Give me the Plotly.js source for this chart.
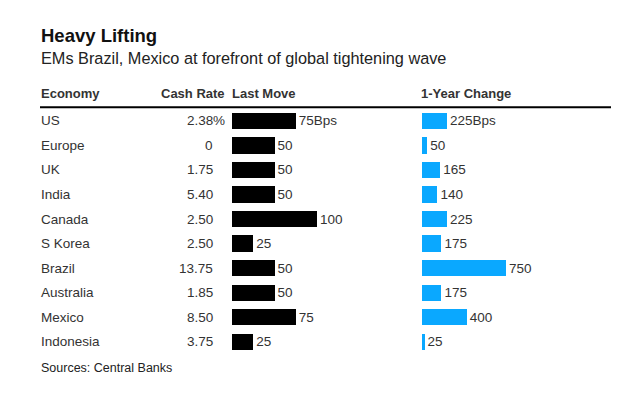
<!DOCTYPE html>
<html>
<head>
<meta charset="utf-8">
<script src="https://cdn.plot.ly/plotly-3.0.1.min.js"></script>
<style>
html,body{margin:0;padding:0;background:#fff;}
#chart{width:630px;height:415px;}
</style>
</head>
<body>
<div id="chart"></div>
<script>
const economies = ['US','Europe','UK','India','Canada','S Korea','Brazil','Australia','Mexico','Indonesia'];
const cashRates = ['2.38','0','1.75','5.40','2.50','2.50','13.75','1.85','8.50','3.75'];
const lastMove = [75,50,50,50,100,25,50,50,75,25];
const yearChange = [225,50,165,140,225,175,750,175,400,25];
const headers = ['Economy','Cash Rate','Last Move','1-Year Change'];
const titleText = 'Heavy Lifting';
const subtitleText = 'EMs Brazil, Mexico at forefront of global tightening wave';
const sourceText = 'Sources: Central Banks';

const W = 630, H = 415;
const FONT = 'Liberation Sans, Arial, sans-serif';
const px = v => v / W;
const py = v => (H - v) / H;

const lastMoveText = lastMove.map((v,i) => i === 0 ? v + 'Bps' : String(v));
const yearChangeText = yearChange.map((v,i) => i === 0 ? v + 'Bps' : String(v));

const traces = [
  {
    type: 'bar', orientation: 'h', x: lastMove, y: economies,
    xaxis: 'x', yaxis: 'y',
    marker: {color: '#000000', line: {width: 0}},
    width: 0.66,
    text: lastMoveText, textposition: 'outside', constraintext: 'none',
    textfont: {family: FONT, size: 13.5, color: '#333333'},
    cliponaxis: false, hoverinfo: 'skip'
  },
  {
    type: 'bar', orientation: 'h', x: yearChange, y: economies,
    xaxis: 'x2', yaxis: 'y',
    marker: {color: '#0aa8ff', line: {width: 0}},
    width: 0.66,
    text: yearChangeText, textposition: 'outside', constraintext: 'none',
    textfont: {family: FONT, size: 13.5, color: '#333333'},
    cliponaxis: false, hoverinfo: 'skip'
  }
];

const annotations = [];
function ann(text, x, y, opts) {
  annotations.push(Object.assign({
    text: text, x: x, y: y, xref: 'paper', yref: 'paper',
    xanchor: 'left', yanchor: 'middle', showarrow: false,
    font: {family: FONT, size: 13.5, color: '#333333'}
  }, opts || {}));
}

ann('<b>' + titleText + '</b>', px(39), py(35), {font: {family: FONT, size: 18.5, color: '#111111'}});
ann(subtitleText, px(39), py(58), {font: {family: FONT, size: 16.3, color: '#222222'}});
ann('<b>' + headers[0] + '</b>', px(39), py(93), {font: {family: FONT, size: 13, color: '#333333'}});
ann('<b>' + headers[1] + '</b>', px(227), py(93), {xanchor: 'right', font: {family: FONT, size: 13, color: '#333333'}});
ann('<b>' + headers[2] + '</b>', px(230), py(93), {font: {family: FONT, size: 13, color: '#333333'}});
ann('<b>' + headers[3] + '</b>', px(419), py(93), {font: {family: FONT, size: 13, color: '#333333'}});
ann(sourceText, px(39), py(368), {font: {family: FONT, size: 12.5, color: '#222222'}});

economies.forEach((e, i) => {
  annotations.push({text: e, x: px(39), y: e, xref: 'paper', yref: 'y', xanchor: 'left', yanchor: 'middle',
    showarrow: false, font: {family: FONT, size: 13.5, color: '#333333'}});
  annotations.push({text: cashRates[i], x: px(215), y: e, xref: 'paper', yref: 'y', xanchor: 'right', yanchor: 'middle',
    showarrow: false, font: {family: FONT, size: 13.5, color: '#333333'}});
  if (i === 0) {
    annotations.push({text: '%', x: px(211), y: e, xref: 'paper', yref: 'y', xanchor: 'left', yanchor: 'middle',
      showarrow: false, font: {family: FONT, size: 13.5, color: '#333333'}});
  }
});

const layout = {
  width: W, height: H,
  margin: {l: 0, r: 0, t: 0, b: 0},
  paper_bgcolor: '#ffffff', plot_bgcolor: 'rgba(0,0,0,0)',
  showlegend: false,
  bargap: 0,
  xaxis: {domain: [px(232), px(232 + 85)], range: [0, 100], visible: false, fixedrange: true},
  xaxis2: {domain: [px(421.7), px(421.7 + 90)], range: [0, 800], visible: false, fixedrange: true, anchor: 'y'},
  yaxis: {domain: [py(354), py(108.6)], range: [9.5, -0.5], type: 'category',
    categoryorder: 'array', categoryarray: economies, visible: false, fixedrange: true},
  shapes: [{type: 'line', xref: 'paper', yref: 'paper', x0: px(40), x1: px(611), y0: py(107.3), y1: py(107.3),
    line: {color: '#000000', width: 2}}],
  annotations: annotations
};

Plotly.newPlot('chart', traces, layout, {displayModeBar: false, staticPlot: true});
</script>
</body>
</html>
